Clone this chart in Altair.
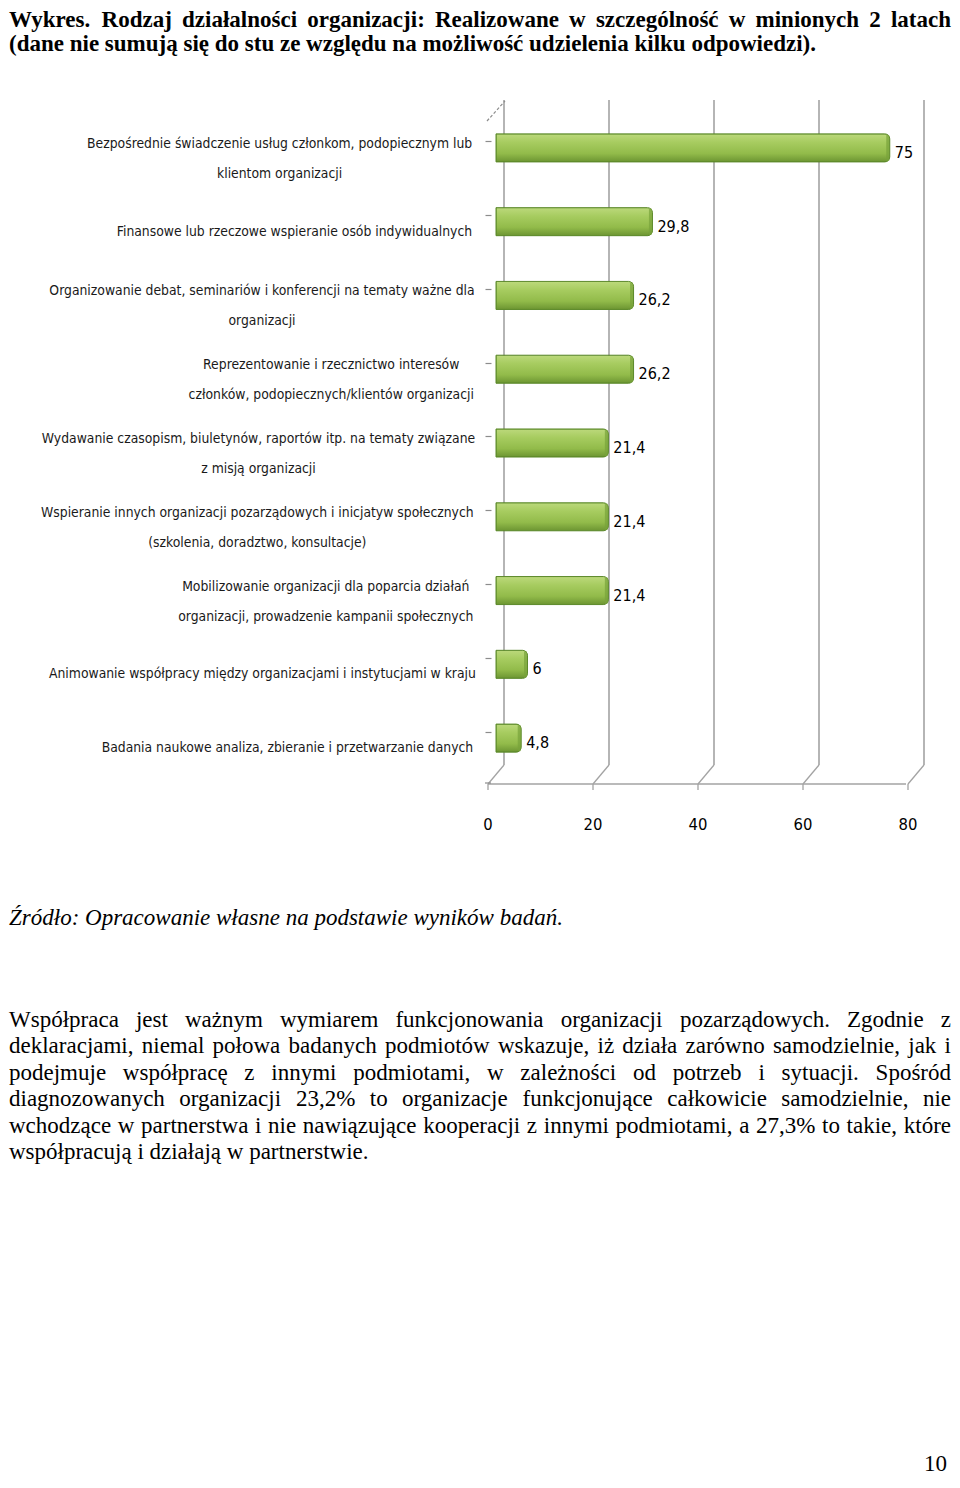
import altair as alt
import pandas as pd

# ---------------- data ----------------
categories = [
    "Bezpośrednie świadczenie usług członkom, podopiecznym lub\nklientom organizacji",
    "Finansowe lub rzeczowe wspieranie osób indywidualnych",
    "Organizowanie debat, seminariów i konferencji na tematy ważne dla\norganizacji",
    "Reprezentowanie i rzecznictwo interesów\nczłonków, podopiecznych/klientów organizacji",
    "Wydawanie czasopism, biuletynów, raportów itp. na tematy związane\nz misją organizacji",
    "Wspieranie innych organizacji pozarządowych i inicjatyw społecznych\n(szkolenia, doradztwo, konsultacje)",
    "Mobilizowanie organizacji dla poparcia działań\norganizacji, prowadzenie kampanii społecznych",
    "Animowanie współpracy między organizacjami i instytucjami w kraju",
    "Badania naukowe analiza, zbieranie i przetwarzanie danych",
]
values = [75, 29.8, 26.2, 26.2, 21.4, 21.4, 21.4, 6, 4.8]
value_labels = ["75", "29,8", "26,2", "26,2", "21,4", "21,4", "21,4", "6", "4,8"]
ticks = [0, 20, 40, 60, 80]
tick_labels = ["0", "20", "40", "60", "80"]

title_lines = [
    "Wykres. Rodzaj działalności organizacji: Realizowane w szczególność w minionych 2 latach",
    "(dane nie sumują się do stu ze względu na możliwość udzielenia kilku odpowiedzi).",
]
source_text = "Źródło: Opracowanie własne na podstawie wyników badań."
paragraph_lines = [
    "Współpraca jest ważnym wymiarem funkcjonowania organizacji pozarządowych. Zgodnie z",
    "deklaracjami, niemal połowa badanych podmiotów wskazuje, iż działa zarówno samodzielnie, jak i",
    "podejmuje współpracę z innymi podmiotami, w zależności od potrzeb i sytuacji. Spośród",
    "diagnozowanych organizacji 23,2% to organizacje funkcjonujące całkowicie samodzielnie, nie",
    "wchodzące w partnerstwa i nie nawiązujące kooperacji z innymi podmiotami, a 27,3% to takie, które",
    "współpracują i działają w partnerstwie.",
]
page_number = "10"

# ---------------- layout helpers ----------------
SANS = "Liberation Sans Narrow, Arial Narrow, DejaVu Sans Condensed, sans-serif"
SERIF = "Liberation Serif, Times New Roman, serif"
OX, OY = 496, 119  # page position of plot origin
W, H = 420, 664
LEFT, RIGHT = 9, 951

PL = {"ą": "a", "ć": "c", "ę": "e", "ł": "l", "ń": "n", "ó": "o", "ś": "s", "ź": "z", "ż": "z",
      "Ą": "A", "Ć": "C", "Ę": "E", "Ł": "L", "Ń": "N", "Ó": "O", "Ś": "S", "Ź": "Z", "Ż": "Z"}

def table(lower, upper, extra):
    t = dict(zip("abcdefghijklmnopqrstuvwxyz", lower))
    t.update(dict(zip("ABCDEFGHIJKLMNOPQRSTUVWXYZ", upper)))
    t.update(extra)
    return t

TIMES = table([444, 500, 444, 500, 444, 333, 500, 500, 278, 278, 500, 278, 778, 500, 500, 500, 500, 333, 389, 278, 500, 500, 722, 500, 500, 444],
              [722, 667, 667, 722, 611, 556, 722, 722, 333, 389, 722, 611, 889, 722, 722, 556, 722, 667, 556, 611, 722, 722, 944, 722, 722, 611],
              {" ": 250, ",": 250, ".": 250, ":": 278, "%": 833, "(": 333, ")": 333, "/": 278, "-": 333, **{d: 500 for d in "0123456789"}})
TIMESB = table([500, 556, 444, 556, 444, 333, 500, 556, 278, 333, 556, 278, 833, 556, 500, 556, 556, 444, 389, 333, 556, 500, 722, 500, 500, 444],
               [722, 667, 722, 722, 667, 611, 778, 778, 389, 500, 778, 667, 944, 722, 778, 611, 778, 722, 556, 667, 722, 722, 1000, 722, 722, 667],
               {" ": 250, ",": 250, ".": 250, ":": 333, "%": 1000, "(": 333, ")": 333, **{d: 500 for d in "0123456789"}})
ARIAL = table([556, 556, 500, 556, 556, 278, 556, 556, 222, 222, 500, 222, 833, 556, 556, 556, 556, 333, 500, 278, 556, 500, 722, 500, 500, 500],
              [667, 667, 722, 722, 667, 611, 778, 722, 278, 500, 667, 556, 833, 722, 778, 667, 778, 722, 667, 611, 722, 667, 944, 667, 667, 611],
              {" ": 278, ",": 278, ".": 278, "/": 278, "(": 333, ")": 333, "-": 333, **{d: 556 for d in "0123456789"}})

def tw(s, t, size, scale=1.0):
    return sum(t.get(PL.get(c, c), 500) for c in s) * size * scale / 1000

def line_rows(line, t, size, left, right, y, justify):
    if not justify:
        return [{"text": line, "x": left - OX, "y": y - OY}]
    words = line.split(" ")
    ws = [tw(w, t, size) for w in words]
    gap = (right - left - sum(ws)) / (len(words) - 1)
    rows, x = [], left
    for w, wd in zip(words, ws):
        rows.append({"text": w, "x": x - OX, "y": y - OY})
        x += wd + gap
    return rows

FS = 23
title_rows = line_rows(title_lines[0], TIMESB, FS, LEFT, RIGHT, 20, True) + \
    line_rows(title_lines[1], TIMESB, FS, LEFT, RIGHT, 44, False)
para_y = [1020, 1046, 1073, 1099, 1126, 1152]
para_rows = []
for i, (ln, yy) in enumerate(zip(paragraph_lines, para_y)):
    para_rows += line_rows(ln, TIMES, FS, LEFT, RIGHT, yy, i < len(paragraph_lines) - 1)
src_rows = line_rows(source_text, TIMES, FS, LEFT, RIGHT, 918, False)

LAB_FS = 13.8
LINE_H = 30
lab_cx, lab_n = [], []
for c in categories:
    lines = c.split("\n")
    wmax = max(tw(l, ARIAL, LAB_FS, 1.02) for l in lines)
    lab_cx.append((474 - OX) - wmax / 2)
    lab_n.append(len(lines))

df = pd.DataFrame({"cat": categories, "value": values, "label": value_labels,
                   "cx": lab_cx, "nl": lab_n})
df_ticks = pd.DataFrame({"t": ticks, "lab": tick_labels})
df_one = pd.DataFrame({"a": [0], "b": [80]})

# ---------------- encodings ----------------
xscale = alt.Scale(domain=[0, 80], nice=False, zero=True)
yscale = alt.Scale(domain=categories, paddingInner=0.62, paddingOuter=0.31)
yaxis = alt.Axis(labels=False, domain=False, grid=False, ticks=True, tickSize=6,
                 tickColor="#8c8c8c", tickWidth=1.2, offset=5, bandPosition=0, title=None)
Yc = alt.Y("cat:N", scale=yscale, axis=yaxis, title=None)
GRID = "#a3a3a3"

grid = alt.Chart(df_ticks).mark_rule(color=GRID, strokeWidth=1.6, xOffset=8).encode(
    x=alt.X("t:Q", scale=xscale, axis=None), y=alt.value(-19), y2=alt.value(646))
conn = alt.Chart(df_ticks).mark_rule(color=GRID, strokeWidth=1.3, xOffset=-8, x2Offset=8).encode(
    x=alt.X("t:Q", scale=xscale, axis=None), x2="t:Q", y=alt.value(665), y2=alt.value(646))
fticks = alt.Chart(df_ticks).mark_rule(color=GRID, strokeWidth=1.3, xOffset=-8).encode(
    x=alt.X("t:Q", scale=xscale, axis=None), y=alt.value(665), y2=alt.value(671))
baseline = alt.Chart(df_one).mark_rule(color=GRID, strokeWidth=1.6, xOffset=-8, x2Offset=-10).encode(
    x=alt.X("a:Q", scale=xscale, axis=None), x2="b:Q", y=alt.value(665))
topdiag = alt.Chart(df_one).mark_rule(color="#8c8c8c", strokeWidth=1.2, strokeDash=[3, 2]).encode(
    x=alt.value(-9), x2=alt.value(9), y=alt.value(2), y2=alt.value(-18))
botdash = alt.Chart(df_one).mark_rule(color="#8c8c8c", strokeWidth=1.2).encode(
    x=alt.value(-11), x2=alt.value(-5), y=alt.value(H))

green = alt.Gradient(
    gradient="linear", x1=0, x2=0, y1=0, y2=1,
    stops=[alt.GradientStop(offset=0, color="#bcd97c"),
           alt.GradientStop(offset=0.3, color="#a7cc60"),
           alt.GradientStop(offset=0.7, color="#92bb4a"),
           alt.GradientStop(offset=1, color="#6c9532")])
bars = alt.Chart(df).mark_bar(color=green, stroke="#5d8a2b", strokeWidth=1, yOffset=-8,
                              cornerRadiusEnd=5).encode(
    x=alt.X("value:Q", scale=xscale, axis=None), y=Yc)
caps = alt.Chart(df).mark_tick(color="#78a23a", thickness=3, size=26, yOffset=-8, xOffset=-2).encode(
    x=alt.X("value:Q", scale=xscale, axis=None), y=Yc)
vlabels = alt.Chart(df).mark_text(align="left", baseline="middle", dx=5, yOffset=-3,
                                  fontSize=16, font=SANS, color="#000000").encode(
    x=alt.X("value:Q", scale=xscale, axis=None), y=Yc, text="label:N")


def cat_layer(n):
    return alt.Chart(df).transform_filter(alt.datum.nl == n).mark_text(
        align="center", baseline="middle", lineBreak="\n", lineHeight=LINE_H,
        yOffset=-(n - 1) * LINE_H / 2 + 2 + (n - 1),
        fontSize=LAB_FS, font=SANS, color="#1a1a1a").encode(
        x=alt.X("cx:Q", scale=None, axis=None), y=Yc, text="cat:N")


clabels1 = cat_layer(1)
clabels2 = cat_layer(2)
xlabels = alt.Chart(df_ticks).mark_text(align="center", baseline="middle", xOffset=-8,
                                        fontSize=16.5, font=SANS, color="#000000").encode(
    x=alt.X("t:Q", scale=xscale, axis=None), y=alt.value(706), text="lab:N")


def text_layer(rows, **kw):
    return alt.Chart(pd.DataFrame(rows)).mark_text(align="left", baseline="middle", font=SERIF,
                                                   fontSize=FS, color="#000000", **kw).encode(
        x=alt.X("x:Q", scale=None, axis=None), y=alt.Y("y:Q", scale=None, axis=None), text="text:N")


title_l = text_layer(title_rows, fontWeight="bold")
src_l = text_layer(src_rows, fontStyle="italic")
para_l = text_layer(para_rows)
pnum = alt.Chart(pd.DataFrame({"text": [page_number], "x": [RIGHT - 4 - OX], "y": [1464 - OY]})).mark_text(
    align="right", baseline="middle", font=SERIF, fontSize=FS, color="#000000").encode(
    x=alt.X("x:Q", scale=None, axis=None), y=alt.Y("y:Q", scale=None, axis=None), text="text:N")

chart = alt.layer(grid, conn, fticks, baseline, topdiag, botdash, bars, caps, vlabels,
                  clabels1, clabels2, xlabels, title_l, src_l, para_l, pnum).properties(
    width=W, height=H,
    padding={"left": 488, "top": 111, "right": 36, "bottom": 697},
    autosize=alt.AutoSizeParams(type="none"),
    background="white",
).configure_view(stroke=None)

chart.save("out.html", embed_options={"renderer": "svg", "actions": False})
